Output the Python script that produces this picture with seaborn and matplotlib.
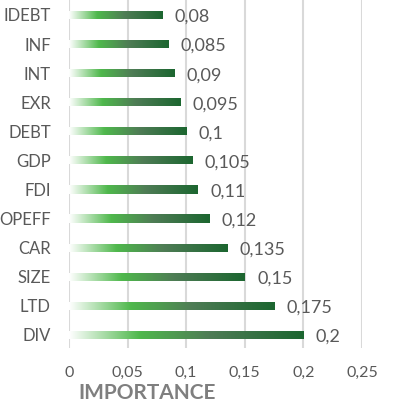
import numpy as np
import pandas as pd
import seaborn as sns
import matplotlib.pyplot as plt
from matplotlib.colors import LinearSegmentedColormap

features = ['IDEBT', 'INF', 'INT', 'EXR', 'DEBT', 'GDP', 'FDI', 'OPEFF', 'CAR', 'SIZE', 'LTD', 'DIV']
importance = [0.08, 0.085, 0.09, 0.095, 0.1, 0.105, 0.11, 0.12, 0.135, 0.15, 0.175, 0.2]
xticks = [0, 0.05, 0.1, 0.15, 0.2, 0.25]

df = pd.DataFrame({'Feature': features, 'Importance': importance})

sns.set_style('white')
plt.rcParams['font.family'] = ['Lato', 'DejaVu Sans']

fig = plt.figure(figsize=(3.96, 4.05), dpi=100)
ax = fig.add_axes([0.174, 0.141, 0.74, 0.859])

sns.barplot(data=df, x='Importance', y='Feature', orient='h', width=0.28,
            color='#2e7d3a', ax=ax)

# gradient fill: white -> bright green -> grey green -> dark green
cmap = LinearSegmentedColormap.from_list(
    'grad', [(0, '#ffffff'), (0.3, '#4fb84c'), (0.6, '#4e7c55'), (1.0, '#1c6630')])
grad = np.linspace(0, 1, 256).reshape(1, -1)
for p in ax.patches:
    x0, y0 = p.get_x(), p.get_y()
    w, h = p.get_width(), p.get_height()
    p.set_facecolor('none')
    p.set_edgecolor('none')
    im = ax.imshow(grad, cmap=cmap, aspect='auto', extent=[x0, x0 + w, y0 + h, y0],
                   zorder=2, interpolation='bicubic')
    im.set_clip_path(p)

for i, v in enumerate(importance):
    ax.text(v + 0.0105, i + 0.07, f'{v:g}'.replace('.', ','), va='center', ha='left',
            fontsize=13, color='#595959')

ax.set_xlim(0, 0.25)
ax.set_ylim(11.45, -0.515)
ax.set_xticks(xticks)
ax.set_xticklabels([f'{t:g}'.replace('.', ',') for t in xticks])
ax.grid(axis='x', color='#d9d9d9', linewidth=1.5)
ax.grid(axis='y', visible=False)
ax.set_axisbelow(True)
sns.despine(ax=ax, left=True, bottom=True)
ax.tick_params(axis='both', length=0, labelcolor='#595959')
ax.tick_params(axis='y', pad=13, labelsize=12)
ax.tick_params(axis='x', pad=13, labelsize=11.5)
ax.set_xlabel('')
ax.set_ylabel('')

fig.text(78 / 396, 1 - 393 / 405, 'IMPORTANCE', fontsize=15, fontweight='bold',
         color='#7f7f7f', ha='left', va='center')

fig.savefig('out.png', dpi=100)
